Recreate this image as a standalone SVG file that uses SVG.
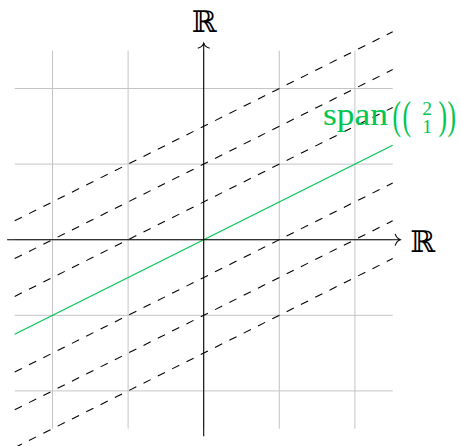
<svg xmlns="http://www.w3.org/2000/svg" width="461" height="446" viewBox="0 0 461 446">
<style>
.grid{stroke:#c4c4c4;stroke-width:1;fill:none}
.dash{stroke:#000;stroke-width:1.07;stroke-dasharray:8 8;fill:none}
.axis{stroke:#000;stroke-width:1.07;fill:none}
.span{stroke:#00c650;stroke-width:1.07;fill:none}
.bb{font-family:"DejaVu Serif","DejaVu Sans",serif;font-size:30px;fill:#000}
.lbl{font-family:"Liberation Serif","Times New Roman",serif;fill:#00c650}
</style>
<defs>
<marker id="arr" markerUnits="userSpaceOnUse" markerWidth="14" markerHeight="14" refX="0" refY="0" viewBox="-7 -7 14 14" orient="auto" overflow="visible">
<path d="M-5,-5.5 C-4.2,-2.6 -1.6,-0.6 0,0 C-1.6,0.6 -4.2,2.6 -5,5.5" stroke="#000" stroke-width="1.07" fill="none" stroke-linecap="round"/>
</marker>
</defs>
<rect width="461" height="446" fill="#fff"/>
<g id="grid" class="grid">
<path d="M52.5,50.7V428.7M128.1,50.7V428.7M203.7,50.7V428.7M279.3,50.7V428.7M354.9,50.7V428.7"/>
<path d="M14.7,88.5H392.7M14.7,164.1H392.7M14.7,239.7H392.7M14.7,315.3H392.7M14.7,390.9H392.7"/>
</g>
<g id="connectors">
<g id="dashed-lines" class="dash">
<line x1="14.7" y1="220.8" x2="392.7" y2="31.8"/>
<line x1="14.7" y1="258.6" x2="392.7" y2="69.6"/>
<line x1="14.7" y1="296.4" x2="392.7" y2="107.4"/>
<line x1="14.7" y1="372.0" x2="392.7" y2="183.0"/>
<line x1="14.7" y1="409.8" x2="392.7" y2="220.8"/>
<line x1="14.7" y1="447.6" x2="392.7" y2="258.6"/>
</g>
<line id="span-line" class="span" x1="14.7" y1="334.2" x2="392.7" y2="145.2"/>
<line id="x-axis" class="axis" x1="7.1" y1="239.7" x2="400.3" y2="239.7" marker-end="url(#arr)"/>
<line id="y-axis" class="axis" x1="203.7" y1="436.3" x2="203.7" y2="43.1" marker-end="url(#arr)"/>
</g>
<g id="label-y"><text class="bb" x="204" y="32" text-anchor="middle">ℝ</text></g>
<g id="label-x"><text class="bb" x="422.5" y="251.7" text-anchor="middle">ℝ</text></g>
<g id="label-span" class="lbl">
<text x="323" y="124.5" font-family="Liberation Serif, serif" font-size="32" textLength="65" lengthAdjust="spacingAndGlyphs">span</text>
<text font-family="Liberation Serif, serif" font-size="30" transform="translate(392.5,128.5) scale(0.85,1.3)">(</text>
<text font-family="Liberation Serif, serif" font-size="30" transform="translate(402.5,128.5) scale(0.85,1.3)">(</text>
<text x="427" y="115" font-family="Liberation Serif, serif" font-size="19.5" text-anchor="middle">2</text>
<text x="427" y="133" font-family="Liberation Serif, serif" font-size="19.5" text-anchor="middle">1</text>
<text font-family="Liberation Serif, serif" font-size="30" transform="translate(438.5,128.5) scale(0.85,1.3)">)</text>
<text font-family="Liberation Serif, serif" font-size="30" transform="translate(447.5,128.5) scale(0.85,1.3)">)</text>
</g>
</svg>
